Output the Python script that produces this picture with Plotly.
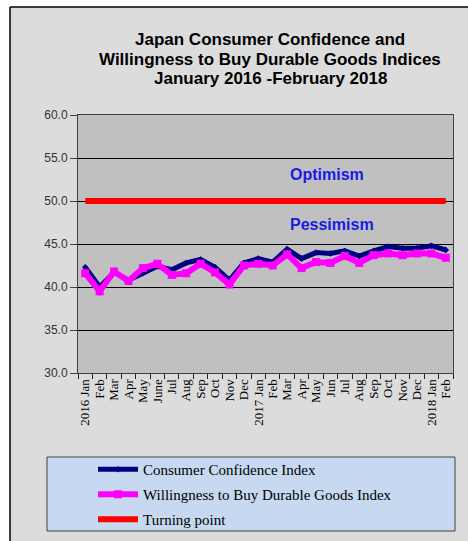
import plotly.graph_objects as go

months = ["2016 Jan", "Feb", "Mar", "Apr", "May", "June", "Jul", "Aug", "Sep", "Oct", "Nov", "Dec",
          "2017 Jan", "Feb", "Mar", "Apr", "May", "Jun", "Jul", "Aug", "Sep", "Oct", "Nov", "Dec",
          "2018 Jan", "Feb"]
consumer_confidence = [42.3, 40.0, 41.7, 40.8, 41.6, 42.4, 42.0, 42.8, 43.2, 42.3, 40.8, 42.8,
                       43.3, 42.9, 44.4, 43.3, 44.0, 43.9, 44.2, 43.6, 44.2, 44.7, 44.5, 44.5,
                       44.8, 44.3]
willingness = [41.6, 39.5, 41.8, 40.7, 42.2, 42.7, 41.4, 41.6, 42.7, 41.7, 40.3, 42.5,
               42.7, 42.5, 43.8, 42.2, 42.9, 42.8, 43.6, 42.8, 43.7, 43.9, 43.7, 43.9,
               43.9, 43.4]
turning_point = [50.0] * len(months)
y_ticks = [30, 35, 40, 45, 50, 55, 60]
title_lines = ["Japan Consumer Confidence and",
               "Willingness to Buy Durable Goods Indices",
               "January 2016 -February 2018"]

x = list(range(len(months)))

W, H = 468, 541
L, R, T, B = 78, 15, 115, 168
pw, ph = W - L - R, H - T - B


def px(v):
    return (v - L) / pw


def py(v):
    return (H - B - v) / ph


fig = go.Figure()
fig.add_trace(go.Scatter(
    x=x, y=consumer_confidence, name="Consumer Confidence Index",
    mode="lines+markers", line=dict(color="#000080", width=5),
    marker=dict(symbol="diamond", size=5, color="#000080"), legendgroup="a"))
fig.add_trace(go.Scatter(
    x=x, y=willingness, name="Willingness to Buy Durable Goods Index",
    mode="lines+markers", line=dict(color="#ff00ff", width=6),
    marker=dict(symbol="square", size=8, color="#ff00ff"), legendgroup="b"))
fig.add_trace(go.Scatter(
    x=x, y=turning_point, name="Turning point",
    mode="lines", line=dict(color="#ff0000", width=6), legendgroup="c"))

shapes = [
    dict(type="rect", xref="paper", yref="paper", x0=px(0), x1=px(10), y0=py(H), y1=py(0),
         fillcolor="white", line=dict(width=0), layer="below"),
    dict(type="rect", xref="paper", yref="paper", x0=px(0), x1=px(W), y0=py(7), y1=py(0),
         fillcolor="white", line=dict(width=0), layer="below"),
    dict(type="line", xref="paper", yref="paper", x0=px(10), x1=px(W), y0=py(7), y1=py(7),
         line=dict(color="black", width=1.5)),
    dict(type="line", xref="paper", yref="paper", x0=px(10), x1=px(10), y0=py(7), y1=py(H),
         line=dict(color="black", width=1.5)),
    dict(type="rect", xref="paper", yref="paper", x0=px(47), x1=px(455), y0=py(531), y1=py(457),
         fillcolor="#c6d9f0", line=dict(color="#404040", width=1), layer="below"),
]

annotations = []
for i, line in enumerate(title_lines):
    annotations.append(dict(
        text="<b>" + line + "</b>", xref="paper", yref="paper", x=px(270), y=py(40 + 19 * i),
        xanchor="center", yanchor="middle", showarrow=False,
        font=dict(family="Liberation Sans, Arial", size=17, color="black")))
annotations += [
    dict(text="<b>Optimism</b>", xref="paper", yref="paper", x=px(327), y=py(174),
         xanchor="center", yanchor="middle", showarrow=False,
         font=dict(family="Liberation Sans, Arial", size=16, color="#1a1ae6")),
    dict(text="<b>Pessimism</b>", xref="paper", yref="paper", x=px(332), y=py(224),
         xanchor="center", yanchor="middle", showarrow=False,
         font=dict(family="Liberation Sans, Arial", size=16, color="#1a1ae6")),
]

fig.update_layout(
    width=W, height=H,
    margin=dict(l=L, r=R, t=T, b=B, pad=0, autoexpand=False),
    paper_bgcolor="#dcdcdc", plot_bgcolor="#c0c0c0",
    showlegend=True,
    legend=dict(x=px(93), y=py(453), xanchor="left", yanchor="top",
                bgcolor="rgba(0,0,0,0)", borderwidth=0, tracegroupgap=2.5,
                itemwidth=40,
                font=dict(family="Liberation Serif, Times New Roman", size=15, color="black")),
    shapes=shapes, annotations=annotations,
    xaxis=dict(range=[-0.5, len(months) - 0.5], tickmode="array", tickvals=x, ticktext=months,
               tickangle=-90, ticks="", showgrid=False, zeroline=False,
               showline=True, linecolor="#404040", linewidth=1, mirror=True,
               tickfont=dict(family="Liberation Serif, Times New Roman", size=13, color="black"),
               minor=dict(ticks="outside", tick0=-0.5, dtick=1, ticklen=5, tickcolor="#202020",
                          showgrid=False)),
    yaxis=dict(range=[30, 60], tickmode="array", tickvals=y_ticks, tickformat=".1f",
               ticks="outside", ticklen=7, tickcolor="#404040",
               showgrid=True, gridcolor="black", gridwidth=1, zeroline=False,
               showline=True, linecolor="#404040", linewidth=1, mirror=True,
               tickfont=dict(family="Liberation Sans, Arial", size=12, color="#333333")),
)

fig.write_html("out.html")
